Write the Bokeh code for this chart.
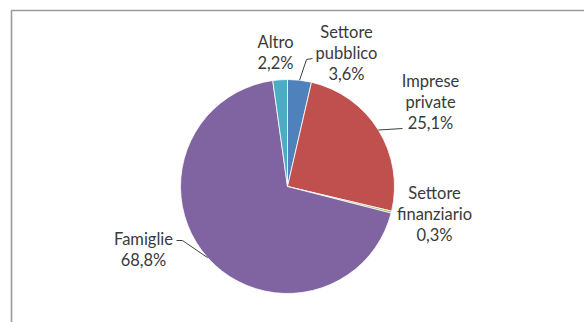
import numpy as np
from bokeh.plotting import figure
from bokeh.models import Range1d
from bokeh.core.properties import value
from bokeh.embed import file_html
from bokeh.resources import INLINE

# ---- data ----
categories = ["Settore pubblico", "Imprese private", "Settore finanziario", "Famiglie", "Altro"]
label_lines = [["Settore", "pubblico"], ["Imprese", "private"], ["Settore", "finanziario"], ["Famiglie"], ["Altro"]]
shares = [3.6, 25.1, 0.3, 68.8, 2.2]

# ---- style / layout ----
colors = ["#4F81BD", "#C0504D", "#9BBB59", "#8064A2", "#4BACC6"]
W, H = 584, 322
CX, CY, R = 287, 186, 107          # pie centre / radius (px from top-left)
label_centers = [(346, 52), (430, 101), (434, 213), (143, 249), (275, 52)]
leader_tail = {0: [(306, 59), (312, 58)], 1: [(402, 128)], 3: [(182, 240), (176, 240)]}
LINE_STEP = 21
FONT = "Lato"
FONT_SIZE = "16.5px"
TEXT_COLOR = "#3a3a3a"

def Y(y):
    return H - y

p = figure(width=W, height=H, x_range=Range1d(0, W), y_range=Range1d(0, H),
           x_axis_type=None, y_axis_type=None, output_backend="svg",
           toolbar_location=None, min_border=0)
p.grid.visible = False
p.outline_line_color = None
p.background_fill_color = "white"
p.border_fill_color = "white"

# chart-area frame
p.line([11, 11, W + 5], [Y(H + 5), Y(10), Y(10)], line_color="#9a9a9a", line_width=1.6)

vals = np.array(shares, dtype=float)
total = vals.sum()
cum_end = np.cumsum(vals) / total
cum_start = cum_end - vals / total
start_ang = np.pi / 2 - 2 * np.pi * cum_start
end_ang = np.pi / 2 - 2 * np.pi * cum_end
mid_ang = (start_ang + end_ang) / 2

p.wedge(x=CX, y=Y(CY), radius=R, start_angle=start_ang, end_angle=end_ang,
        direction="clock", fill_color=colors, line_color="white", line_width=0.8)

# leader lines
for i, tail in leader_tail.items():
    ax = CX + R * np.cos(mid_ang[i])
    ay = Y(CY) + R * np.sin(mid_ang[i])
    xs = [ax] + [t[0] for t in tail]
    ys = [ay] + [Y(t[1]) for t in tail]
    p.line(xs, ys, line_color="#404040", line_width=1)

# labels
for i, (cx, cy) in enumerate(label_centers):
    pct = f"{shares[i]:.1f}".replace(".", ",") + "%"
    lines = label_lines[i] + [pct]
    n = len(lines)
    for j, t in enumerate(lines):
        yy = cy + (j - (n - 1) / 2) * LINE_STEP
        p.text(x=[cx], y=[Y(yy)], text=[t], text_align="center", text_baseline="middle",
               text_font=value(FONT), text_font_size=FONT_SIZE, text_color=TEXT_COLOR)

open("out.html", "w").write(file_html(p, INLINE))
